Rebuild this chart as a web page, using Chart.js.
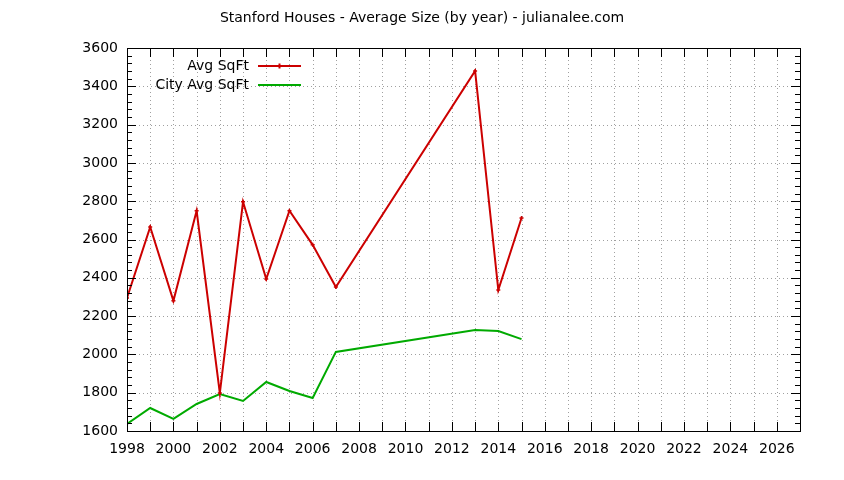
<!DOCTYPE html>
<html>
<head>
<meta charset="utf-8">
<script src="https://cdn.jsdelivr.net/npm/chart.js@4"></script>
<style>
  html, body { margin: 0; padding: 0; background: #fff; }
  #wrap { width: 844px; height: 480px; }
</style>
</head>
<body>
<div id="wrap"><canvas id="chart" width="844" height="480"></canvas></div>
<script>
// values
const years = [1998, 1999, 2000, 2001, 2002, 2003, 2004, 2005, 2006, 2007, 2013, 2014, 2015];
const avgSqft = [2295, 2665, 2280, 2750, 1798, 2797, 2394, 2750, 2572, 2352, 3480, 2336, 2712];
const cityAvgSqft = [1637, 1720, 1663, 1741, 1793, 1757, 1856, 1809, 1772, 2013, 2127, 2122, 2080];
const titleText = 'Stanford Houses - Average Size (by year) - julianalee.com';
const seriesNames = ['Avg SqFt', 'City Avg SqFt'];

const FONT = 'DejaVu Sans';

// gnuplot-like frame: border, mirrored ticks, minor ticks, dotted grid, legend, title
const gnuplotFrame = {
    id: 'gnuplotFrame',
    beforeDatasetsDraw(chart) {
        const { ctx, chartArea: a, scales: { x, y } } = chart;
        ctx.save();
        ctx.strokeStyle = '#a0a0a0';
        ctx.lineWidth = 1;
        ctx.setLineDash([1, 3]);
        for (let yr = 1999; yr <= 2026; yr++) {
            const px = Math.round(x.getPixelForValue(yr)) + 0.5;
            ctx.beginPath(); ctx.moveTo(px, a.top); ctx.lineTo(px, a.bottom); ctx.stroke();
        }
        for (let v = 1800; v <= 3400; v += 200) {
            const py = Math.round(y.getPixelForValue(v)) + 0.5;
            ctx.beginPath(); ctx.moveTo(a.left, py); ctx.lineTo(a.right, py); ctx.stroke();
        }
        ctx.restore();
    },
    afterDatasetsDraw(chart) {
        const { ctx, chartArea: a, scales: { x, y } } = chart;
        ctx.save();
        ctx.strokeStyle = '#000';
        ctx.lineWidth = 1;
        ctx.setLineDash([]);
        ctx.strokeRect(a.left + 0.5, a.top + 0.5, a.right - a.left, a.bottom - a.top);
        ctx.beginPath();
        for (let yr = 1999; yr <= 2026; yr++) {
            const px = Math.round(x.getPixelForValue(yr)) + 0.5;
            ctx.moveTo(px, a.bottom); ctx.lineTo(px, a.bottom - 9);
            ctx.moveTo(px, a.top); ctx.lineTo(px, a.top + 9);
        }
        for (let v = 1600; v <= 3600; v += 40) {
            const py = Math.round(y.getPixelForValue(v)) + 0.5;
            const len = v % 200 === 0 ? 9 : 5;
            ctx.moveTo(a.left, py); ctx.lineTo(a.left + len, py);
            ctx.moveTo(a.right, py); ctx.lineTo(a.right - len, py);
        }
        ctx.stroke();

        // legend
        const colors = ['#cc0000', '#00aa00'];
        ctx.font = '14px "' + FONT + '"';
        ctx.textAlign = 'right';
        ctx.textBaseline = 'middle';
        ctx.fillStyle = '#000';
        seriesNames.forEach((name, i) => {
            const ly = 66 + i * 19;
            ctx.fillText(name, 249, ly);
            ctx.strokeStyle = colors[i];
            ctx.lineWidth = 2;
            ctx.beginPath(); ctx.moveTo(258, ly); ctx.lineTo(301, ly); ctx.stroke();
            if (i === 0) {
                ctx.beginPath();
                ctx.moveTo(279.5, ly - 2.5); ctx.lineTo(279.5, ly + 2.5);
                ctx.stroke();
            }
        });

        // title
        ctx.font = '14px "' + FONT + '"';
        ctx.textAlign = 'center';
        ctx.fillText(titleText, 422, 18);
        ctx.restore();
    }
};

new Chart(document.getElementById('chart'), {
    type: 'line',
    data: {
        datasets: [{
            label: seriesNames[0],
            data: years.map((yr, i) => ({ x: yr, y: avgSqft[i] })),
            borderColor: '#cc0000',
            backgroundColor: '#cc0000',
            borderWidth: 2,
            pointRadius: 2,
            pointHoverRadius: 2,
            pointBorderWidth: 1.5,
            pointStyle: 'cross',
            fill: false,
            tension: 0
        }, {
            label: seriesNames[1],
            data: years.map((yr, i) => ({ x: yr, y: cityAvgSqft[i] })),
            borderColor: '#00aa00',
            backgroundColor: '#00aa00',
            borderWidth: 2,
            pointRadius: 0,
            fill: false,
            tension: 0
        }]
    },
    options: {
        responsive: false,
        animation: false,
        layout: { padding: { top: 48, right: 44, left: 0, bottom: 0 } },
        plugins: {
            legend: { display: false },
            title: { display: false },
            tooltip: { enabled: false }
        },
        scales: {
            x: {
                type: 'linear',
                min: 1998,
                max: 2027,
                grid: { display: false, drawTicks: false },
                border: { display: false },
                afterFit(scale) { scale.height = 49; },
                afterBuildTicks(scale) {
                    const t = [];
                    for (let yr = 1998; yr <= 2026; yr += 2) t.push({ value: yr });
                    scale.ticks = t;
                },
                ticks: {
                    autoSkip: false,
                    maxRotation: 0,
                    padding: 10,
                    color: '#000',
                    font: { family: FONT, size: 14 },
                    callback: v => String(v)
                }
            },
            y: {
                min: 1600,
                max: 3600,
                grid: { display: false, drawTicks: false },
                border: { display: false },
                afterFit(scale) { scale.width = 127; },
                ticks: {
                    stepSize: 200,
                    padding: 9,
                    color: '#000',
                    font: { family: FONT, size: 14 },
                    callback: v => String(v)
                }
            }
        }
    },
    plugins: [gnuplotFrame]
});
</script>
</body>
</html>
